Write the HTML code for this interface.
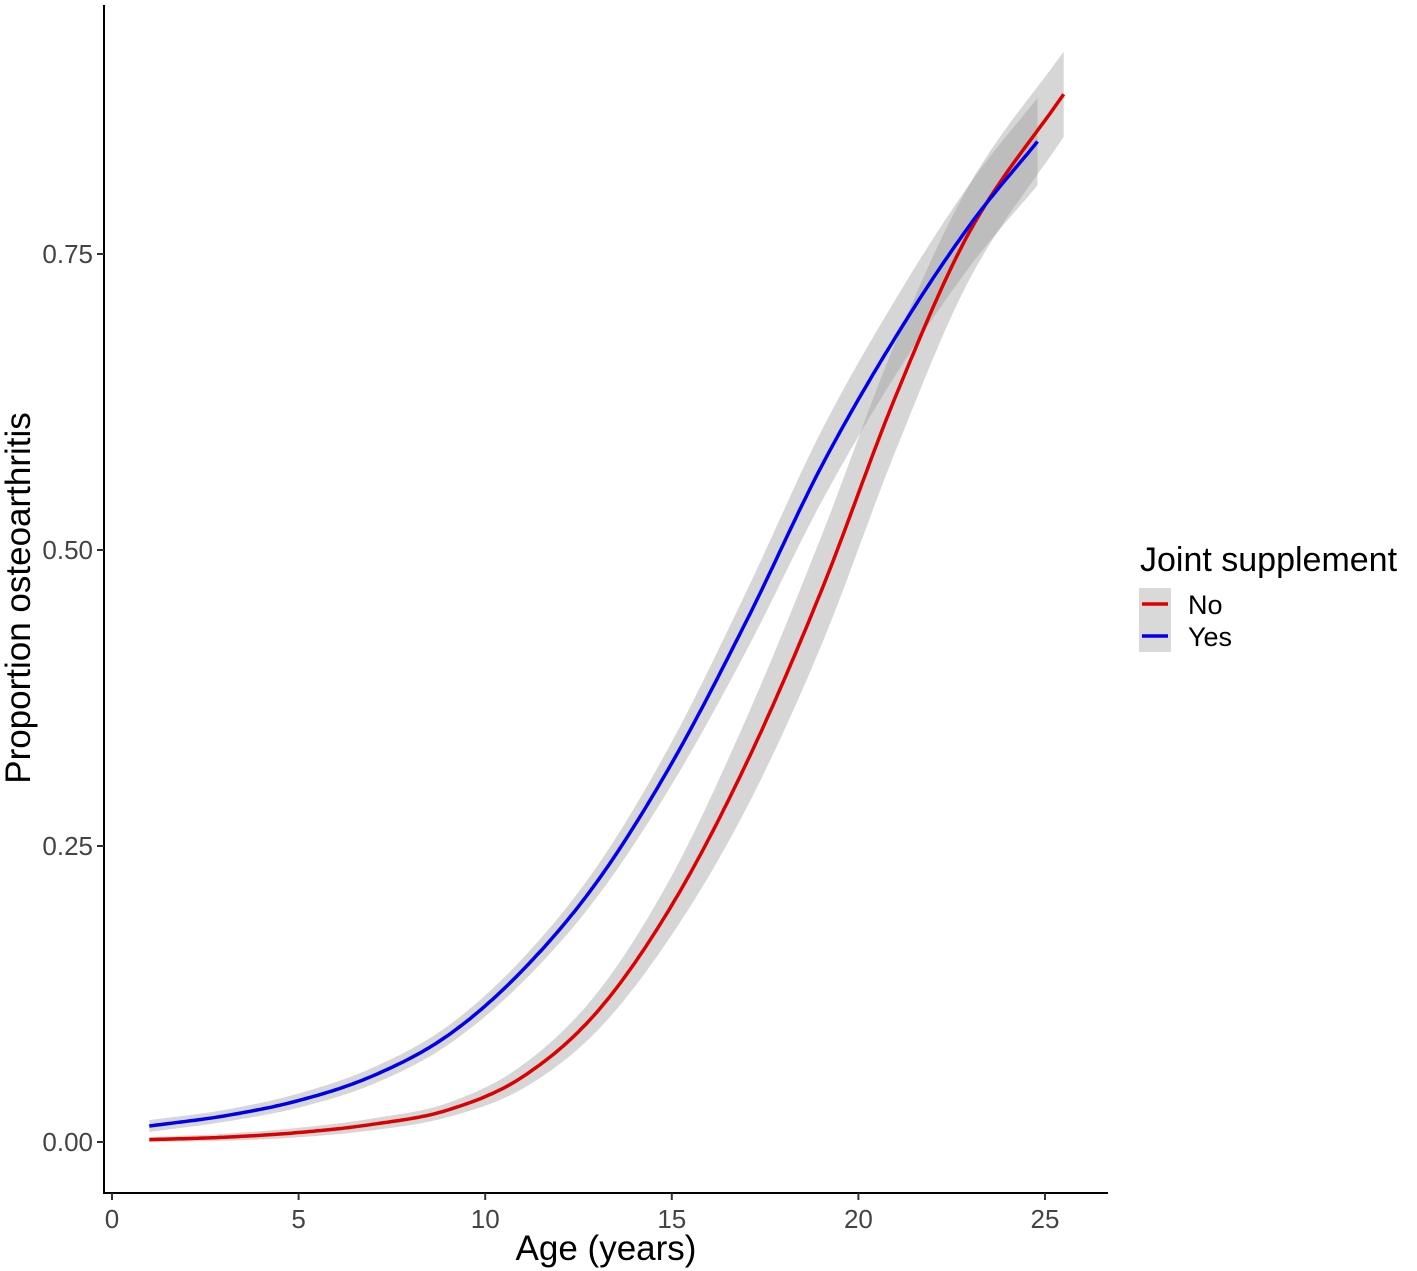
<!DOCTYPE html>
<html><head><meta charset="utf-8"><style>
body{margin:0;background:#fff}
svg{display:block;font-family:"Liberation Sans",Arial,sans-serif}
</style></head><body>
<svg id="chart" width="1417" height="1271">
<g id="plot"></g>
<line x1="104" y1="5" x2="104" y2="1193" stroke="#000" stroke-width="2"/>
<line x1="103" y1="1193" x2="1108" y2="1193" stroke="#000" stroke-width="2"/>
<g id="ticks"></g>
<text x="606" y="1260" font-size="35" text-anchor="middle" fill="#000">Age (years)</text>
<text transform="translate(30,598) rotate(-90)" font-size="35" text-anchor="middle" fill="#000">Proportion osteoarthritis</text>
<g>
<text x="1140" y="571" font-size="34" fill="#000">Joint supplement</text>
<rect x="1139" y="588" width="32" height="32" fill="#d9d9d9"/>
<line x1="1142" y1="604" x2="1168" y2="604" stroke="#dd0000" stroke-width="3.5"/>
<text x="1188" y="614" font-size="27" fill="#000">No</text>
<rect x="1139" y="620" width="32" height="32" fill="#d9d9d9"/>
<line x1="1142" y1="636" x2="1168" y2="636" stroke="#0000ee" stroke-width="3.5"/>
<text x="1188" y="646" font-size="27" fill="#000">Yes</text>
</g>
</svg>
<script>
const noAges=[1,3,5,7,9,11,13,15,17,19,21,23,25.5];
const noVals=[0.002,0.004,0.008,0.015,0.027,0.055,0.11,0.20,0.32,0.465,0.63,0.77,0.885];
const noSE=[0.002,0.003,0.004,0.005,0.006,0.01,0.016,0.025,0.038,0.046,0.046,0.04,0.036];
const yesAges=[1,3,5,7,9,11,13,15,17,19,21,23,24.8];
const yesVals=[0.0135,0.022,0.035,0.056,0.09,0.145,0.22,0.32,0.44,0.57,0.68,0.775,0.845];
const yesSE=[0.005,0.005,0.006,0.007,0.008,0.01,0.013,0.018,0.025,0.03,0.032,0.035,0.037];
const xTicks=[0,5,10,15,20,25];
const yTicks=[0,0.25,0.5,0.75];
const yTickLabels=["0.00","0.25","0.50","0.75"];
const X=v=>112+v*(1045-112)/25;
const Y=v=>1142-v*(1142-254)/0.75;
const NS="http://www.w3.org/2000/svg";
function interp(xs,ys){const pts=[];for(let i=0;i<xs.length-1;i++){const x0=xs[Math.max(i-1,0)],x1=xs[i],x2=xs[i+1],x3=xs[Math.min(i+2,xs.length-1)];const y0=ys[Math.max(i-1,0)],y1=ys[i],y2=ys[i+1],y3=ys[Math.min(i+2,ys.length-1)];const m1=(y2-y0)/(x2-x0||1),m2=(y3-y1)/(x3-x1||1);const h=x2-x1;for(let k=0;k<20;k++){const t=k/20,t2=t*t,t3=t2*t;const y=(2*t3-3*t2+1)*y1+(t3-2*t2+t)*h*m1+(-2*t3+3*t2)*y2+(t3-t2)*h*m2;pts.push([x1+t*h,y]);}}pts.push([xs[xs.length-1],ys[ys.length-1]]);return pts;}
const plot=document.getElementById('plot');
function series(ages,vals,se,color,name){
const lo=interp(ages,vals.map((v,i)=>v-se[i])),hi=interp(ages,vals.map((v,i)=>v+se[i])),mid=interp(ages,vals);
const rib=document.createElementNS(NS,'path');
rib.setAttribute('d','M'+hi.map(p=>X(p[0]).toFixed(1)+','+Y(p[1]).toFixed(1)).join('L')+'L'+lo.reverse().map(p=>X(p[0]).toFixed(1)+','+Y(p[1]).toFixed(1)).join('L')+'Z');
rib.setAttribute('fill','#999');rib.setAttribute('fill-opacity','0.4');


plot.appendChild(rib);
const ln=document.createElementNS(NS,'path');
ln.setAttribute('d','M'+mid.map(p=>X(p[0]).toFixed(1)+','+Y(p[1]).toFixed(1)).join('L'));
ln.setAttribute('fill','none');ln.setAttribute('stroke',color);ln.setAttribute('stroke-width','3.5');


return ln;}
const l1=series(noAges,noVals,noSE,'#dd0000','no');
const l2=series(yesAges,yesVals,yesSE,'#0000ee','yes');
plot.appendChild(l1);plot.appendChild(l2);
const tg=document.getElementById('ticks');
xTicks.forEach(v=>{const l=document.createElementNS(NS,'line');l.setAttribute('x1',X(v));l.setAttribute('x2',X(v));l.setAttribute('y1',1193);l.setAttribute('y2',1200);l.setAttribute('stroke','#333');l.setAttribute('stroke-width','2');tg.appendChild(l);
const t=document.createElementNS(NS,'text');t.setAttribute('x',X(v));t.setAttribute('y',1228);t.setAttribute('font-size','26');t.setAttribute('fill','#444');t.setAttribute('text-anchor','middle');t.textContent=v;


tg.appendChild(t);});
yTicks.forEach((v,i)=>{const l=document.createElementNS(NS,'line');l.setAttribute('x1',97);l.setAttribute('x2',104);l.setAttribute('y1',Y(v));l.setAttribute('y2',Y(v));l.setAttribute('stroke','#333');l.setAttribute('stroke-width','2');tg.appendChild(l);
const t=document.createElementNS(NS,'text');t.setAttribute('x',93);t.setAttribute('y',Y(v)+9);t.setAttribute('font-size','26');t.setAttribute('fill','#444');t.setAttribute('text-anchor','end');t.textContent=yTickLabels[i];


tg.appendChild(t);});
</script>
</body></html>
